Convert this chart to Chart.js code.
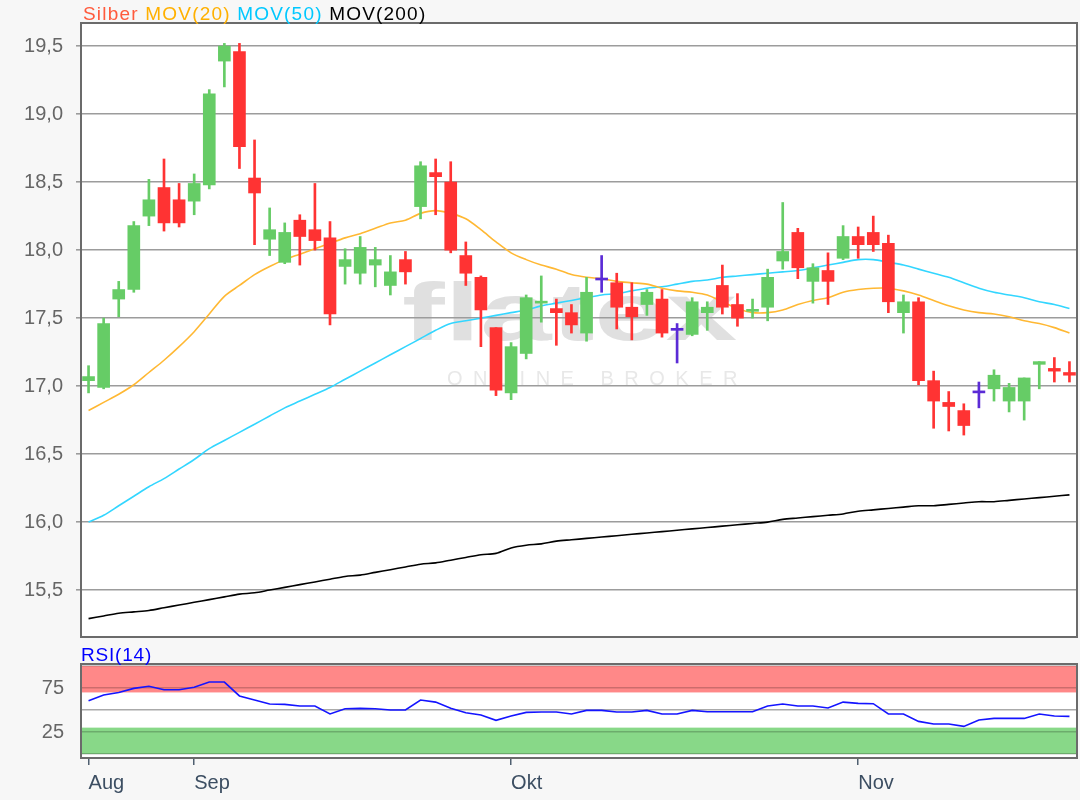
<!DOCTYPE html>
<html><head><meta charset="utf-8">
<script src="https://cdn.jsdelivr.net/npm/chart.js@4.4.1/dist/chart.umd.min.js"></script>
<style>
html,body{margin:0;padding:0;background:#f7f7f7;width:1080px;height:800px;overflow:hidden;font-family:"Liberation Sans",Arial,sans-serif;}
#main{position:absolute;left:0;top:0;}
#rsi{position:absolute;left:0;top:640px;}
#legend{position:absolute;left:83px;top:3px;font-size:19px;letter-spacing:1.2px;white-space:nowrap;}
#rsiTitle{position:absolute;left:81px;top:644px;font-size:19px;color:#0000ff;letter-spacing:0.8px;white-space:nowrap;}
</style></head><body>
<canvas id="main" width="1080" height="640"></canvas>
<canvas id="rsi" width="1080" height="160"></canvas>
<div id="legend"><span style="color:#ff5a3c">Silber</span> <span style="color:#ffb000">MOV(20)</span> <span style="color:#00c8ff">MOV(50)</span> <span style="color:#000">MOV(200)</span></div>
<div id="rsiTitle">RSI(14)</div>
<script>
const categories = ['22.08.','23.08.','26.08.','27.08.','28.08.','29.08.','30.08.',
 '02.09.','03.09.','04.09.','05.09.','06.09.','09.09.','10.09.','11.09.','12.09.','13.09.',
 '16.09.','17.09.','18.09.','19.09.','20.09.','23.09.','24.09.','25.09.','26.09.','27.09.','30.09.',
 '01.10.','02.10.','03.10.','04.10.','07.10.','08.10.','09.10.','10.10.','11.10.',
 '14.10.','15.10.','16.10.','17.10.','18.10.','21.10.','22.10.','23.10.','24.10.','25.10.',
 '28.10.','29.10.','30.10.','31.10.',
 '01.11.','04.11.','05.11.','06.11.','07.11.','08.11.','11.11.','12.11.','13.11.','14.11.','15.11.',
 '18.11.','19.11.','20.11.','21.11.'];

const openVals  = [17.04,16.99,17.64,17.71,18.25,18.46,18.37,18.36,18.48,19.39,19.46,18.53,18.08,17.91,18.22,18.15,18.09,
 17.88,17.83,17.89,17.74,17.93,18.32,18.57,18.50,17.96,17.80,17.43,16.95,17.24,17.61,17.57,17.54,17.39,17.78,17.76,17.58,
 17.60,17.64,17.41,17.38,17.54,17.74,17.60,17.55,17.58,17.92,18.13,17.77,17.85,17.94,18.10,18.13,18.05,17.54,17.62,17.04,
 16.88,16.82,16.95,16.98,16.89,16.89,17.16,17.13,17.10];
const highVals  = [17.15,17.50,17.77,18.21,18.52,18.67,18.49,18.56,19.18,19.52,19.52,18.81,18.31,18.20,18.26,18.49,18.21,
 18.01,18.10,18.02,17.96,17.99,18.65,18.67,18.65,18.06,17.81,17.43,17.32,17.67,17.81,17.64,17.60,17.80,17.96,17.83,17.76,
 17.71,17.71,17.46,17.65,17.62,17.89,17.68,17.64,17.86,18.35,18.16,17.90,17.98,18.18,18.17,18.25,18.11,17.67,17.65,17.11,
 16.96,16.87,17.03,17.12,17.02,17.06,17.18,17.21,17.18];
const lowVals   = [16.95,16.98,17.51,17.69,18.18,18.14,18.17,18.26,18.45,19.20,18.60,18.04,17.96,17.90,17.89,18.00,17.45,
 17.75,17.75,17.73,17.67,17.75,18.23,18.26,17.98,17.74,17.29,16.93,16.90,17.20,17.47,17.30,17.39,17.33,17.69,17.42,17.34,
 17.52,17.36,17.17,17.37,17.41,17.53,17.44,17.50,17.48,17.86,17.79,17.61,17.60,17.93,17.94,17.99,17.54,17.39,17.01,16.69,
 16.67,16.64,16.84,16.89,16.81,16.75,16.98,17.03,17.03];
const closeVals = [17.07,17.46,17.71,18.18,18.37,18.20,18.20,18.49,19.15,19.50,18.76,18.42,18.15,18.13,18.10,18.07,17.53,
 17.93,18.02,17.93,17.84,17.84,18.62,18.54,18.00,17.83,17.56,16.97,17.29,17.65,17.62,17.54,17.45,17.69,17.78,17.58,17.51,
 17.69,17.39,17.41,17.62,17.58,17.58,17.50,17.56,17.80,17.99,17.87,17.87,17.77,18.10,18.04,18.04,17.62,17.62,17.04,16.89,
 16.85,16.71,16.95,17.08,16.99,17.06,17.18,17.11,17.08];

const ma20  = [16.82,16.88,16.94,17.01,17.10,17.19,17.29,17.40,17.53,17.66,17.74,17.82,17.88,17.93,17.97,18.01,18.05,
 18.09,18.12,18.16,18.20,18.22,18.27,18.29,18.27,18.23,18.15,18.06,17.98,17.93,17.89,17.86,17.82,17.80,17.79,17.77,17.76,
 17.75,17.72,17.70,17.69,17.67,17.62,17.57,17.54,17.54,17.56,17.60,17.63,17.65,17.69,17.71,17.72,17.72,17.70,17.67,17.63,
 17.59,17.56,17.54,17.53,17.51,17.48,17.46,17.43,17.39];
const ma50  = [16.00,16.05,16.12,16.19,16.26,16.32,16.39,16.46,16.54,16.60,16.66,16.72,16.78,16.84,16.89,16.94,16.99,
 17.05,17.11,17.17,17.23,17.29,17.35,17.41,17.46,17.48,17.50,17.52,17.54,17.56,17.59,17.61,17.63,17.65,17.67,17.68,17.70,
 17.72,17.73,17.75,17.77,17.78,17.80,17.81,17.82,17.83,17.84,17.85,17.87,17.89,17.91,17.93,17.93,17.91,17.89,17.86,17.83,
 17.80,17.76,17.72,17.69,17.67,17.65,17.62,17.60,17.57];
const ma200 = [15.29,15.31,15.33,15.34,15.35,15.37,15.39,15.41,15.43,15.45,15.47,15.48,15.50,15.52,15.54,15.56,15.58,
 15.60,15.61,15.63,15.65,15.67,15.69,15.70,15.72,15.74,15.76,15.77,15.81,15.83,15.84,15.86,15.87,15.88,15.89,15.90,15.91,
 15.92,15.93,15.94,15.95,15.96,15.97,15.98,15.99,16.00,16.02,16.03,16.04,16.05,16.06,16.08,16.09,16.10,16.11,16.12,16.12,
 16.13,16.14,16.15,16.15,16.16,16.17,16.18,16.19,16.20];

const rsi14 = [60.6,67,70,74.6,77,73,73,75.8,81.8,81.8,66,61.4,56.8,56.4,54.5,54.5,45.5,
 51.5,51.9,51.5,50,50,61.4,59,51.9,47,44.3,38.3,43.2,47.3,47.7,47.7,45.5,49.6,49.6,47.7,47.7,
 49.6,45.5,45.5,49.6,48,48,48,48,54.5,56.8,54.5,54.5,52.3,59,57.6,57.2,45.5,45.5,37.1,34.1,
 34.1,31.4,38.6,40.5,40.5,40.5,45.5,43.2,42.8];

const yTicks = [15.5,16.0,16.5,17.0,17.5,18.0,18.5,19.0,19.5];
const rsiTicks = [0,25,50,75,100];
const rsiTickLabels = ['','25','','75',''];
const overboughtBand = [70,100];
const oversoldBand = [0,30];
const monthLabels = ['Aug','Sep','Okt','Nov'];
const monthIdx = [0,7,28,51];

Chart.defaults.font.family = '"Liberation Sans", Arial, sans-serif';

const upC = '#66cc66', downC = '#ff3333', flatC = '#5b2bd6';
const candleColors = openVals.map((o,i)=> closeVals[i] > o ? upC : (closeVals[i] < o ? downC : flatC));
const bodies = openVals.map((o,i)=>[o, closeVals[i]]);
const wicks = lowVals.map((l,i)=>[l, highVals[i]]);

function fixY(s){ s.width = 81; s.paddingTop = 0; s.paddingBottom = 0; }

function drawFrame(c){
  const {ctx, chartArea:a} = c;
  ctx.save(); ctx.strokeStyle='#6b6b6b'; ctx.lineWidth=2;
  ctx.strokeRect(a.left, a.top, a.right-a.left, a.bottom-a.top); ctx.restore();
}

const mainDeco = {
  id:'mainDeco',
  beforeDraw(c){
    const {ctx, chartArea:a} = c;
    ctx.save();
    ctx.fillStyle='#ffffff'; ctx.fillRect(a.left,a.top,a.right-a.left,a.bottom-a.top);
    ctx.fillStyle='#e0e0e0'; ctx.font='bold 82px "Liberation Sans", Arial'; ctx.textBaseline='alphabetic';
    const w = ctx.measureText('flatex').width;
    ctx.translate(402,340); ctx.scale(335/w,1); ctx.fillText('flatex',0,0);
    ctx.restore();
    ctx.save();
    ctx.fillStyle='#e8e8e8'; ctx.font='20px "Liberation Sans", Arial'; ctx.textBaseline='alphabetic';
    const txt='ONLINE BROKER'; let x=447;
    for(const ch of txt){ ctx.fillText(ch,x,385); x += ctx.measureText(ch).width + 10.5; }
    ctx.restore();
  },
  afterDraw: drawFrame
};

new Chart(document.getElementById('main'), {
  type:'bar',
  data:{labels:categories, datasets:[
    {type:'line', label:'MOV(200)', data:ma200, borderColor:'#000000', borderWidth:1.6, pointRadius:0, tension:0.3, order:5},
    {type:'line', label:'MOV(50)', data:ma50, borderColor:'#33d6ff', borderWidth:1.6, pointRadius:0, tension:0.3, order:4},
    {type:'line', label:'MOV(20)', data:ma20, borderColor:'#ffb833', borderWidth:1.6, pointRadius:0, tension:0.3, order:3},
    {label:'wick', data:wicks, backgroundColor:candleColors, borderWidth:0, barThickness:2, grouped:false, order:2},
    {label:'Silber', data:bodies, backgroundColor:candleColors, borderWidth:0, barThickness:12, minBarLength:2, grouped:false, order:1}
  ]},
  options:{
    responsive:false, animation:false, events:[],
    layout:{padding:{left:0,right:3,top:23,bottom:3}},
    plugins:{legend:{display:false}, tooltip:{enabled:false}},
    scales:{
      x:{display:false, offset:true, grid:{offset:false}},
      y:{min:15.155, max:19.67,
         afterFit:fixY,
         afterBuildTicks:s=>{s.ticks=yTicks.map(v=>({value:v}));},
         ticks:{autoSkip:false, callback:v=>Number(v).toFixed(1).replace('.',','), color:'#666666', font:{size:20}, padding:13},
         grid:{color:'#9c9c9c', lineWidth:1.6, tickLength:5},
         border:{display:false}}
    }
  },
  plugins:[mainDeco]
});

const rsiDeco = {
  id:'rsiDeco',
  beforeDraw(c){
    const {ctx, chartArea:a, scales:{y}} = c;
    ctx.save();
    ctx.fillStyle='#ffffff'; ctx.fillRect(a.left,a.top,a.right-a.left,a.bottom-a.top);
    let t=y.getPixelForValue(overboughtBand[1]), b=y.getPixelForValue(overboughtBand[0]);
    ctx.fillStyle='#ff8888'; ctx.fillRect(a.left,t,a.right-a.left,b-t);
    t=y.getPixelForValue(oversoldBand[1]); b=y.getPixelForValue(oversoldBand[0]);
    ctx.fillStyle='#88d888'; ctx.fillRect(a.left,t,a.right-a.left,b-t);
    ctx.restore();
  },
  afterDraw: drawFrame
};

new Chart(document.getElementById('rsi'), {
  type:'line',
  data:{labels:categories, datasets:[
    {label:'RSI(14)', data:rsi14, borderColor:'#1414ff', borderWidth:1.6, pointRadius:0, tension:0}
  ]},
  options:{
    responsive:false, animation:false, events:[],
    layout:{padding:{left:0,right:3,top:24,bottom:0}},
    plugins:{legend:{display:false}, tooltip:{enabled:false}},
    scales:{
      x:{offset:true,
         grid:{offset:false, drawOnChartArea:false, tickLength:7, color:'#4f5f70', lineWidth:1.5},
         border:{display:false},
         afterFit:s=>{s.height=42;},
         afterBuildTicks:s=>{s.ticks=monthIdx.map(v=>({value:v}));},
         ticks:{autoSkip:false, maxRotation:0, minRotation:0, align:'start', padding:6, color:'#3c4e62', font:{size:20},
                callback:v=>monthLabels[monthIdx.indexOf(v)]}},
      y:{min:-4.5, max:102.3,
         afterFit:fixY,
         afterBuildTicks:s=>{s.ticks=rsiTicks.map(v=>({value:v}));},
         ticks:{autoSkip:false, callback:(v,i)=>rsiTickLabels[i], color:'#666666', font:{size:20}, padding:17},
         grid:{color:ctx=> (ctx.tick && ctx.tick.value===50) ? '#aaaaaa' : 'rgba(0,0,0,0.2)', lineWidth:1.6, drawTicks:false},
         border:{display:false}}
    }
  },
  plugins:[rsiDeco]
});
</script>
</body></html>
